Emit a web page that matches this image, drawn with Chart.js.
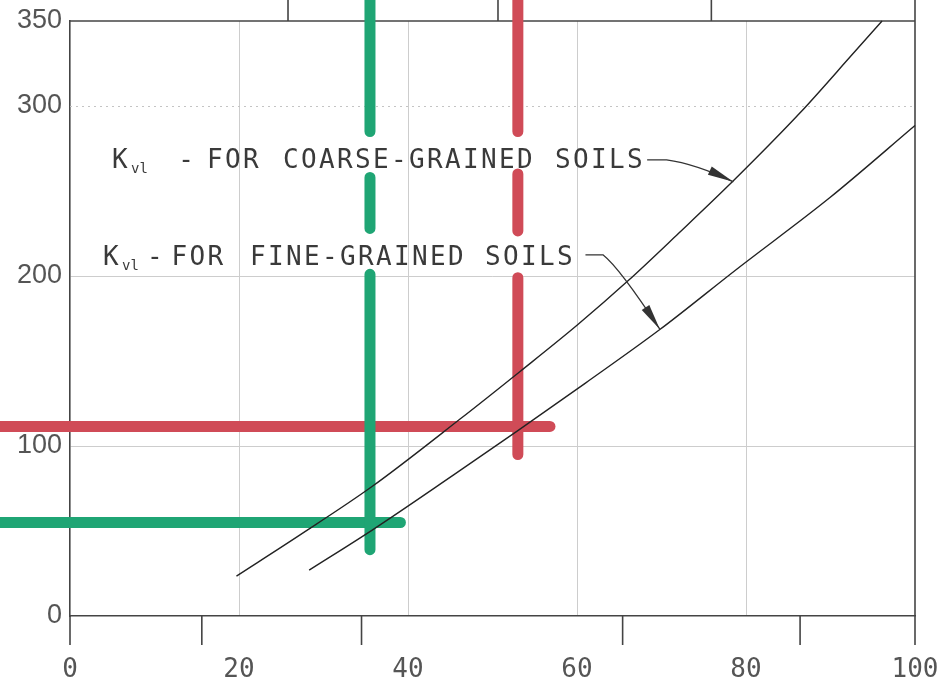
<!DOCTYPE html>
<html><head><meta charset="utf-8">
<script src="https://cdn.jsdelivr.net/npm/chart.js@4.4.0/dist/chart.umd.min.js"></script>
<style>html,body{margin:0;padding:0;background:#fff;}#wrap{width:948px;height:686px;}</style>
</head><body><div id="wrap"><canvas id="c" width="948" height="686"></canvas></div>
<script>
// ---- data ----
const xTickLabels = [0, 20, 40, 60, 80, 100];
const yTickLabels = [0, 100, 200, 300, 350];
const bottomTickMarks = [0, 15.6, 34.5, 65.4, 86.4, 100];
const topTickMarks = [25.8, 50.65, 75.9];

const coarseX = [19.7, 27.0, 35.7, 46.2, 53.3, 60.0, 66.0, 72.0, 78.5, 86.4, 92.7, 96.1];
const coarseY = [23.5, 47.0, 76.0, 116.0, 144.0, 171.0, 197.0, 225.0, 256.0, 296.0, 331.0, 350.0];
const fineX = [28.3, 35.9, 45.4, 53.0, 61.0, 69.8, 78.9, 89.9, 100.0];
const fineY = [27.0, 51.0, 83.0, 109.0, 137.0, 168.5, 204.0, 246.0, 288.5];

const greenVX = 35.5;
const greenVSegments = [[363, 285], [258, 228], [201, 39]];
const greenHY = 55;
const greenHRange = [-8.3, 39.1];
const redVX = 53.0;
const redVSegments = [[363, 285], [260, 226.5], [199, 95]];
const redHY = 111.5;
const redHRange = [-8.3, 56.8];

const labelCoarse = ["K", "vl", "-", "FOR", "COARSE-GRAINED", "SOILS"];
const labelFine = ["K", "vl", "-", "FOR", "FINE-GRAINED", "SOILS"];

// ---- build datasets ----
const GREEN = '#1fa574';
const RED = '#d04b57';
const datasets = [];
function seg(points, color, w) {
  datasets.push({data: points, borderColor: color, borderWidth: w, pointRadius: 0,
    borderCapStyle: 'round', clip: false, order: 2, tension: 0});
}
greenVSegments.forEach(s => seg([{x: greenVX, y: s[0]}, {x: greenVX, y: s[1]}], GREEN, 11));
redVSegments.forEach(s => seg([{x: redVX, y: s[0]}, {x: redVX, y: s[1]}], RED, 11));
seg([{x: greenHRange[0], y: greenHY}, {x: greenHRange[1], y: greenHY}], GREEN, 11);
seg([{x: redHRange[0], y: redHY}, {x: redHRange[1], y: redHY}], RED, 11);
datasets.push({data: coarseX.map((x, i) => ({x, y: coarseY[i]})), borderColor: '#222', borderWidth: 1.4,
  pointRadius: 0, cubicInterpolationMode: 'monotone', clip: false, order: 0});
datasets.push({data: fineX.map((x, i) => ({x, y: fineY[i]})), borderColor: '#222', borderWidth: 1.4,
  pointRadius: 0, cubicInterpolationMode: 'monotone', clip: false, order: 0});

// ---- decorations ----
const TEXTFONT = '26px "DejaVu Sans Mono"';
const PITCH = 18;
function drawLabel(ctx, xs, ys, parts, pos) {
  const base = ys.getPixelForValue(pos[5]);
  ctx.fillStyle = '#3a3a3a';
  ctx.textBaseline = 'alphabetic';
  ctx.textAlign = 'left';
  ctx.font = TEXTFONT;
  const kx = xs.getPixelForValue(pos[0]);
  ctx.fillText(parts[0], kx, base);
  ctx.font = '14px "DejaVu Sans Mono"';
  ctx.fillText(parts[1], kx + 19, base + 5);
  ctx.font = TEXTFONT;
  const starts = [pos[1], pos[2], pos[3], pos[4]];
  [parts[2], parts[3], parts[4], parts[5]].forEach((w, i) => {
    let x = xs.getPixelForValue(starts[i]);
    for (const ch of w) { ctx.fillText(ch, x, base); x += PITCH; }
  });
}
function arrow(ctx, pts, tip, ctrl) {
  ctx.strokeStyle = '#333'; ctx.lineWidth = 1.3;
  ctx.beginPath();
  ctx.moveTo(pts[0][0], pts[0][1]);
  ctx.lineTo(pts[1][0], pts[1][1]);
  ctx.quadraticCurveTo(ctrl[0], ctrl[1], tip[0], tip[1]);
  ctx.stroke();
  const ang = Math.atan2(tip[1] - ctrl[1], tip[0] - ctrl[0]);
  const L = 26, W = 4.5;
  ctx.fillStyle = '#333';
  ctx.beginPath();
  ctx.moveTo(tip[0], tip[1]);
  ctx.lineTo(tip[0] - L * Math.cos(ang) - W * Math.sin(ang), tip[1] - L * Math.sin(ang) + W * Math.cos(ang));
  ctx.lineTo(tip[0] - L * Math.cos(ang) + W * Math.sin(ang), tip[1] - L * Math.sin(ang) - W * Math.cos(ang));
  ctx.closePath(); ctx.fill();
}
const deco = {
  id: 'deco',
  beforeDatasetsDraw(chart) {
    const {ctx, scales: {x, y}} = chart;
    ctx.save();
    ctx.strokeStyle = '#c4c4c4'; ctx.lineWidth = 1.2; ctx.setLineDash([2, 4]);
    const p = Math.round(y.getPixelForValue(300)) + 0.5;
    ctx.beginPath(); ctx.moveTo(x.getPixelForValue(0), p); ctx.lineTo(x.getPixelForValue(100), p); ctx.stroke();
    ctx.setLineDash([]);
    ctx.strokeStyle = '#444'; ctx.lineWidth = 1.6;
    const top = y.getPixelForValue(350), bot = y.getPixelForValue(0);
    const rx = x.getPixelForValue(100);
    ctx.beginPath(); ctx.moveTo(x.getPixelForValue(0), top); ctx.lineTo(rx, top); ctx.stroke();
    ctx.beginPath(); ctx.moveTo(rx, 0); ctx.lineTo(rx, bot); ctx.stroke();
    topTickMarks.forEach(v => {
      const px = x.getPixelForValue(v);
      ctx.beginPath(); ctx.moveTo(px, 0); ctx.lineTo(px, top); ctx.stroke();
    });
    bottomTickMarks.forEach(v => {
      const px = x.getPixelForValue(v);
      ctx.beginPath(); ctx.moveTo(px, bot); ctx.lineTo(px, bot + 29); ctx.stroke();
    });
    ctx.restore();
  },
  afterDatasetsDraw(chart) {
    const {ctx, scales: {x, y}} = chart;
    ctx.save();
    drawLabel(ctx, x, y, labelCoarse, [4.97, 12.8, 16.2, 25.2, 57.4, 263.5]);
    drawLabel(ctx, x, y, labelFine, [3.9, 9.1, 12.0, 21.3, 49.1, 206.5]);
    const P = (a, b) => [x.getPixelForValue(a), y.getPixelForValue(b)];
    arrow(ctx, [P(68.3, 268.3), P(70.6, 268.3)], P(78.5, 255.4), P(74.0, 266.0));
    arrow(ctx, [P(61.0, 212.4), P(63.1, 212.4)], P(69.8, 168.7), P(65.0, 205.0));
    ctx.restore();
  }
};

new Chart(document.getElementById('c'), {
  type: 'line',
  data: {datasets},
  plugins: [deco],
  options: {
    responsive: false, animation: false, devicePixelRatio: 1,
    layout: {padding: {top: 21, right: 33, left: 0, bottom: 0}},
    plugins: {legend: {display: false}, tooltip: {enabled: false}},
    scales: {
      x: {
        type: 'linear', min: 0, max: 100,
        afterBuildTicks: s => { s.ticks = xTickLabels.map(v => ({value: v})); },
        afterFit: s => { s.height = 70; s.paddingLeft = 0; s.paddingRight = 0; },
        grid: {drawTicks: false, lineWidth: 1,
          color: c => (c.tick && (c.tick.value === 0 || c.tick.value === 100)) ? 'rgba(0,0,0,0)' : '#cdcdcd'},
        border: {color: '#444', width: 1.6},
        ticks: {padding: 39, autoSkip: false, maxRotation: 0, color: '#555',
          font: {family: 'DejaVu Sans Mono', size: 26}}
      },
      y: {
        min: 0, max: 350,
        afterBuildTicks: s => { s.ticks = yTickLabels.map(v => ({value: v})); },
        afterFit: s => { s.width = 70; s.paddingTop = 0; s.paddingBottom = 0; },
        grid: {drawTicks: false, lineWidth: 1,
          color: c => (c.tick && (c.tick.value === 0 || c.tick.value === 300 || c.tick.value === 350)) ? 'rgba(0,0,0,0)' : '#cdcdcd'},
        border: {color: '#444', width: 1.6},
        ticks: {padding: 8, color: '#555', font: {family: 'Liberation Sans', size: 27}}
      }
    }
  }
});
</script></body></html>
